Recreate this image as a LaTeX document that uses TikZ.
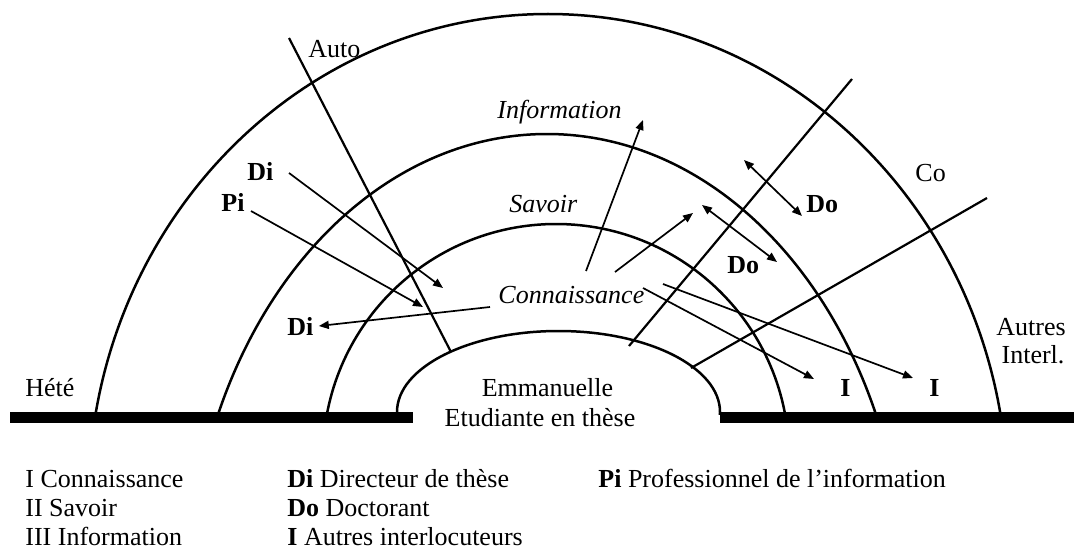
\documentclass[tikz,border=0pt]{standalone}
\usepackage{fontspec}
\setmainfont{Liberation Serif}
\usetikzlibrary{arrows.meta}

\begin{document}
\begin{tikzpicture}[
  x=0.5pt,y=0.5pt,
  font=\fontsize{13}{15}\selectfont,
  lbl/.style={anchor=base west,inner sep=0},
  ctr/.style={anchor=base,inner sep=0},
  ring/.style={line width=1.25pt},
  ray/.style={line width=1.1pt},
  bar/.style={line width=5.25pt},
  arr/.style={line width=0.85pt,-{Triangle[length=5pt,width=4pt]}},
  darr/.style={line width=0.85pt,{Triangle[length=5pt,width=4pt]}-{Triangle[length=5pt,width=4pt]}},
]
\useasboundingbox (0,0) rectangle (1074,-551);

% Rings
\begin{scope}
  \clip (0,0) rectangle (1074,-414);
  \draw[ring] (558.5,-412) ellipse[x radius=161.5,y radius=81];
  \draw[ring] (556,-457) circle[radius=233];
  \draw[ring] (547,-600) ellipse[x radius=358.5,y radius=466];
  \draw[ring] (548,-500) ellipse[x radius=459.6,y radius=486];
\end{scope}

% Ground
\draw[bar] (10,-417.5) -- (413,-417.5);
\draw[bar] (720,-417.5) -- (1074,-417.5);

% Rays
\coordinate (au1) at (289,-38);  \coordinate (au2) at (451,-352);
\coordinate (ne1) at (852,-79);  \coordinate (ne2) at (629,-346);
\coordinate (co1) at (987,-198); \coordinate (co2) at (691,-368);
\draw[ray] (au1)--(au2); \draw[ray] (ne1)--(ne2); \draw[ray] (co1)--(co2);

% Labels
\node[lbl] (auto) at (308,-58) {Auto};
\node[lbl] (hete) at (25,-396) {Hété};
\node[lbl] (co) at (915,-181) {Co};
\node[ctr] (aut1) at (1031,-335) {Autres};
\node[ctr] (aut2) at (1033,-363) {Interl.};
\node[ctr] (emm1) at (547.5,-396) {Emmanuelle};
\node[ctr] (emm2) at (540,-426) {Etudiante en thèse};
\node[lbl] (info) at (497,-119) {\textit{Information}};
\node[lbl] (sav) at (509,-212) {\textit{Savoir}};
\node[lbl] (conn) at (498,-303) {\textit{Connaissance}};
\node[lbl] (di1) at (247,-180) {\textbf{Di}};
\node[lbl] (pi) at (221,-211) {\textbf{Pi}};
\node[lbl] (di2) at (287,-335) {\textbf{Di}};
\node[lbl] (do1) at (806,-212) {\textbf{Do}};
\node[lbl] (do2) at (727,-273) {\textbf{Do}};
\node[lbl] (i1) at (840,-396) {\textbf{I}};
\node[lbl] (i2) at (929,-396) {\textbf{I}};

% Flows
\coordinate (d1a) at (289,-173); \coordinate (d1b) at (443,-288);
\coordinate (pa) at (251,-211);  \coordinate (pb) at (423,-307);
\coordinate (ca) at (490,-307);
\coordinate (fa) at (586,-271);  \coordinate (fb) at (643,-120);
\coordinate (sa) at (615,-272);  \coordinate (sb) at (693,-213);
\coordinate (oa) at (702,-205);  \coordinate (ob) at (777,-262);
\coordinate (ua) at (744,-160);  \coordinate (ub) at (802,-216);
\coordinate (ia) at (643,-288);  \coordinate (ib) at (814,-379);
\coordinate (ja) at (663,-284);  \coordinate (jb) at (913,-378);
\draw[arr] (d1a)--(d1b);
\draw[arr] (pa)--(pb);
\draw[arr] (ca)--([xshift=2.5pt]di2.east);
\draw[arr] (fa)--(fb);
\draw[arr] (sa)--(sb);
\draw[darr] (oa)--(ob);
\draw[darr] (ua)--(ub);
\draw[arr] (ia)--(ib);
\draw[arr] (ja)--(jb);

% Legend
\node[lbl] (lg1) at (25,-487) {I Connaissance};
\node[lbl] (lg2) at (25,-516.5) {II Savoir};
\node[lbl] (lg3) at (25,-545.5) {III Information};
\node[lbl] (lg4) at (287,-487) {\textbf{Di} Directeur de thèse};
\node[lbl] (lg5) at (287,-516.5) {\textbf{Do} Doctorant};
\node[lbl] (lg6) at (287,-545.5) {\textbf{I} Autres interlocuteurs};
\node[lbl] (lg7) at (598,-487) {\textbf{Pi} Professionnel de l’information};
\end{tikzpicture}
\end{document}
